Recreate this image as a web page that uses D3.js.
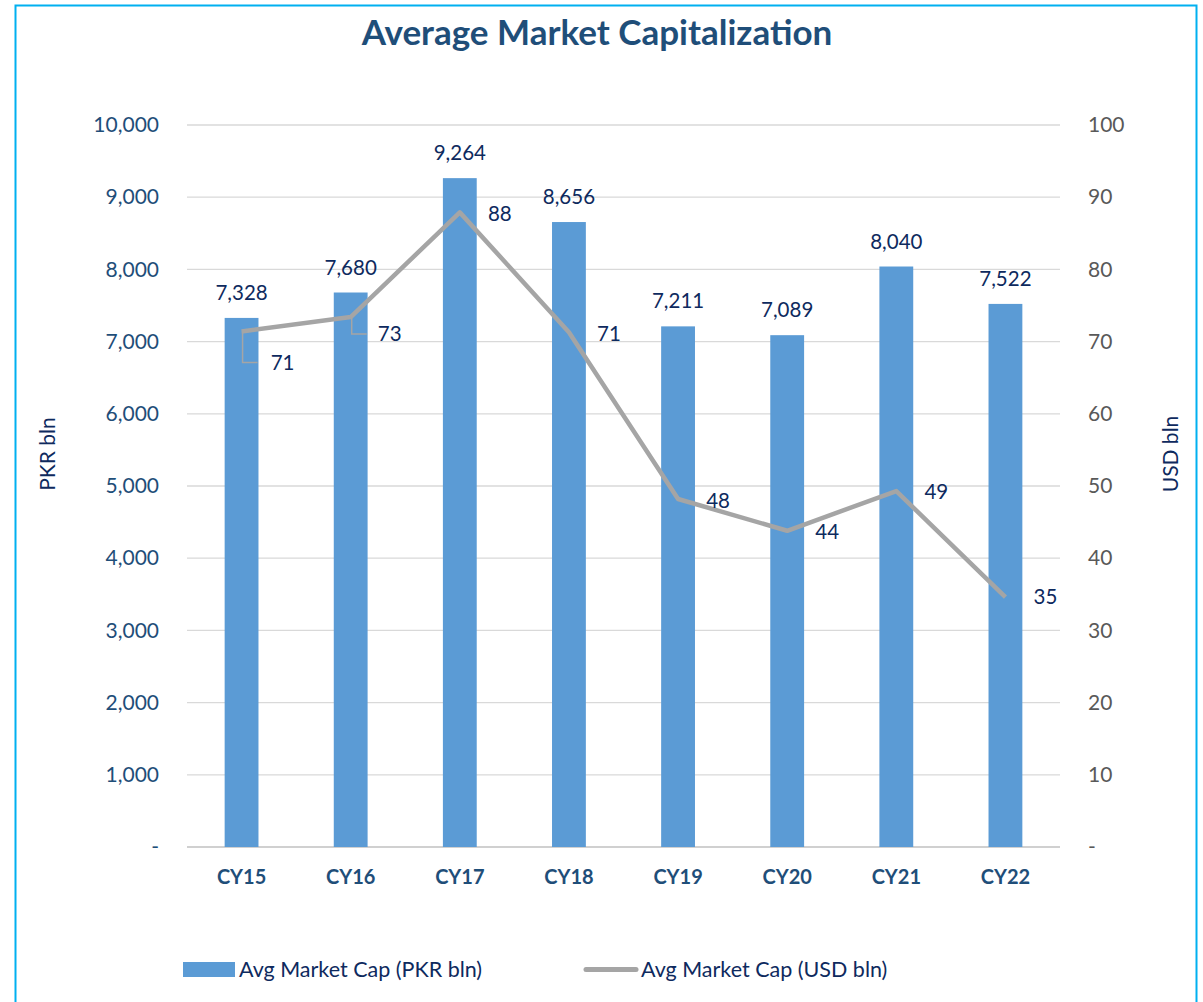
<!DOCTYPE html>
<html lang="en">
<head>
<meta charset="UTF-8">
<title>Average Market Capitalization</title>
<style>
  body { margin: 0; background: #fff; }
  svg { display: block; font-family: Lato, "Open Sans", sans-serif; }
</style>
</head>
<body>
<svg class="chart"></svg>
<script src="https://cdnjs.cloudflare.com/ajax/libs/d3/7.8.5/d3.min.js"></script>
<script>
// data
const years = ['CY15', 'CY16', 'CY17', 'CY18', 'CY19', 'CY20', 'CY21', 'CY22'];
const pkrValues = [7328, 7680, 9264, 8656, 7211, 7089, 8040, 7522];
const usdValues = [71.4, 73.4, 87.9, 71.3, 48.2, 43.8, 49.3, 34.6];
const leftTicks = [0, 1000, 2000, 3000, 4000, 5000, 6000, 7000, 8000, 9000, 10000];
const rightTicks = [0, 10, 20, 30, 40, 50, 60, 70, 80, 90, 100];

const width = 1203, height = 1002;
const margin = {top: 125, left: 187, right: 143, bottom: 155};
const innerWidth = width - margin.left - margin.right;
const innerHeight = height - margin.top - margin.bottom;

const navy = '#0e2a5e', axisBlue = '#1f4e79', barBlue = '#5b9bd5', lineGray = '#a5a5a5';

const svg = d3.select('.chart').attr('width', width).attr('height', height);

// outer border, the bottom edge is below the page
svg.append('path')
    .attr('d', 'M15.5,1002 V5.5 H1196.5 V1002')
    .attr('fill', 'none').attr('stroke', '#00b0f0').attr('stroke-width', 2);

svg.append('text')
    .attr('x', 597).attr('y', 45)
    .attr('text-anchor', 'middle')
    .attr('font-size', 35).attr('font-weight', 'bold')
    .attr('fill', axisBlue)
    .text('Average Market Capitalization');

const chart = svg.append('g').attr('transform', `translate(${margin.left},${margin.top})`);

const x = d3.scaleBand().domain(years).range([0, innerWidth]).paddingInner(0.69).paddingOuter(0.345);
const yLeft = d3.scaleLinear().domain([0, 10000]).range([innerHeight, 0]);
const yRight = d3.scaleLinear().domain([0, 100]).range([innerHeight, 0]);

// gridlines
chart.append('g').selectAll('line')
    .data(leftTicks)
    .join('line')
    .attr('x1', 0).attr('x2', innerWidth)
    .attr('y1', d => yLeft(d)).attr('y2', d => yLeft(d))
    .attr('stroke', d => d === 0 ? '#d0d0d0' : '#d9d9d9')
    .attr('stroke-width', d => d === 0 ? 2 : 1.3);

// left axis
const leftAxis = chart.append('g').call(
    d3.axisLeft(yLeft).tickValues(leftTicks).tickSize(0).tickPadding(28)
      .tickFormat(d => d === 0 ? '-' : d3.format(',')(d)));
leftAxis.select('.domain').remove();
leftAxis.selectAll('text').attr('font-size', 21).attr('fill', axisBlue).attr('font-family', 'Lato, sans-serif');

// right axis
const rightAxis = chart.append('g').attr('transform', `translate(${innerWidth},0)`).call(
    d3.axisRight(yRight).tickValues(rightTicks).tickSize(0).tickPadding(28)
      .tickFormat(d => d === 0 ? '-' : d));
rightAxis.select('.domain').remove();
rightAxis.selectAll('text').attr('font-size', 21).attr('fill', '#595959').attr('font-family', 'Lato, sans-serif');

// x axis labels
const xAxis = chart.append('g').attr('transform', `translate(0,${innerHeight})`)
    .call(d3.axisBottom(x).tickSize(0).tickPadding(23));
xAxis.select('.domain').remove();
xAxis.selectAll('text').attr('font-size', 20).attr('font-weight', 'bold')
    .attr('fill', axisBlue).attr('font-family', 'Lato, sans-serif');

// axis titles
svg.append('text')
    .attr('transform', 'translate(55,454) rotate(-90)')
    .attr('text-anchor', 'middle').attr('font-size', 21).attr('fill', navy)
    .text('PKR bln');
svg.append('text')
    .attr('transform', 'translate(1178,454) rotate(-90)')
    .attr('text-anchor', 'middle').attr('font-size', 21).attr('fill', navy)
    .text('USD bln');

// bars
chart.append('g').selectAll('rect')
    .data(years)
    .join('rect')
    .attr('x', d => x(d))
    .attr('y', (d, i) => yLeft(pkrValues[i]))
    .attr('width', x.bandwidth())
    .attr('height', (d, i) => innerHeight - yLeft(pkrValues[i]))
    .attr('fill', barBlue);

chart.append('g').selectAll('text')
    .data(years)
    .join('text')
    .attr('x', d => x(d) + x.bandwidth() / 2)
    .attr('y', (d, i) => yLeft(pkrValues[i]) - 18)
    .attr('text-anchor', 'middle')
    .attr('font-size', 20.5).attr('fill', navy)
    .text((d, i) => d3.format(',')(pkrValues[i]));

// line
const cx = d => x(d) + x.bandwidth() / 2;
const line = d3.line().x(d => cx(d)).y((d, i) => yRight(usdValues[i]));

chart.append('path')
    .datum(years)
    .attr('d', line)
    .attr('fill', 'none')
    .attr('stroke', lineGray)
    .attr('stroke-width', 4.5)
    .attr('stroke-linejoin', 'round');

// line labels, first two pushed down with leader lines
const labelShift = [
    {dx: 41, dy: 31, leader: true},
    {dx: 39, dy: 17, leader: true},
    {dx: 40, dy: 1}, {dx: 40, dy: 2}, {dx: 40, dy: 2},
    {dx: 40, dy: 1}, {dx: 40, dy: 1}, {dx: 40, dy: 0}
];

chart.append('g').selectAll('path')
    .data(years.filter((d, i) => labelShift[i].leader))
    .join('path')
    .attr('d', d => {
        const i = years.indexOf(d);
        const px = cx(d), py = yRight(usdValues[i]);
        const ly = py + labelShift[i].dy;
        return `M${px + 1},${py} V${ly} H${px + 16}`;
    })
    .attr('fill', 'none').attr('stroke', lineGray).attr('stroke-width', 1.5);

chart.append('g').selectAll('text')
    .data(years)
    .join('text')
    .attr('x', (d, i) => cx(d) + labelShift[i].dx)
    .attr('y', (d, i) => yRight(usdValues[i]) + labelShift[i].dy)
    .attr('dy', '0.35em')
    .attr('text-anchor', 'middle')
    .attr('font-size', 20.5).attr('fill', navy)
    .text((d, i) => Math.round(usdValues[i]));

// legend
const legend = svg.append('g').attr('font-size', 21.5).attr('fill', navy);
legend.append('rect').attr('x', 183).attr('y', 962).attr('width', 52).attr('height', 15).attr('fill', barBlue);
legend.append('text').attr('x', 239).attr('y', 977).text('Avg Market Cap (PKR bln)');
legend.append('line').attr('x1', 586).attr('x2', 636).attr('y1', 969.5).attr('y2', 969.5)
    .attr('stroke', lineGray).attr('stroke-width', 5).attr('stroke-linecap', 'round');
legend.append('text').attr('x', 641).attr('y', 977).text('Avg Market Cap (USD bln)');
</script>
</body>
</html>
